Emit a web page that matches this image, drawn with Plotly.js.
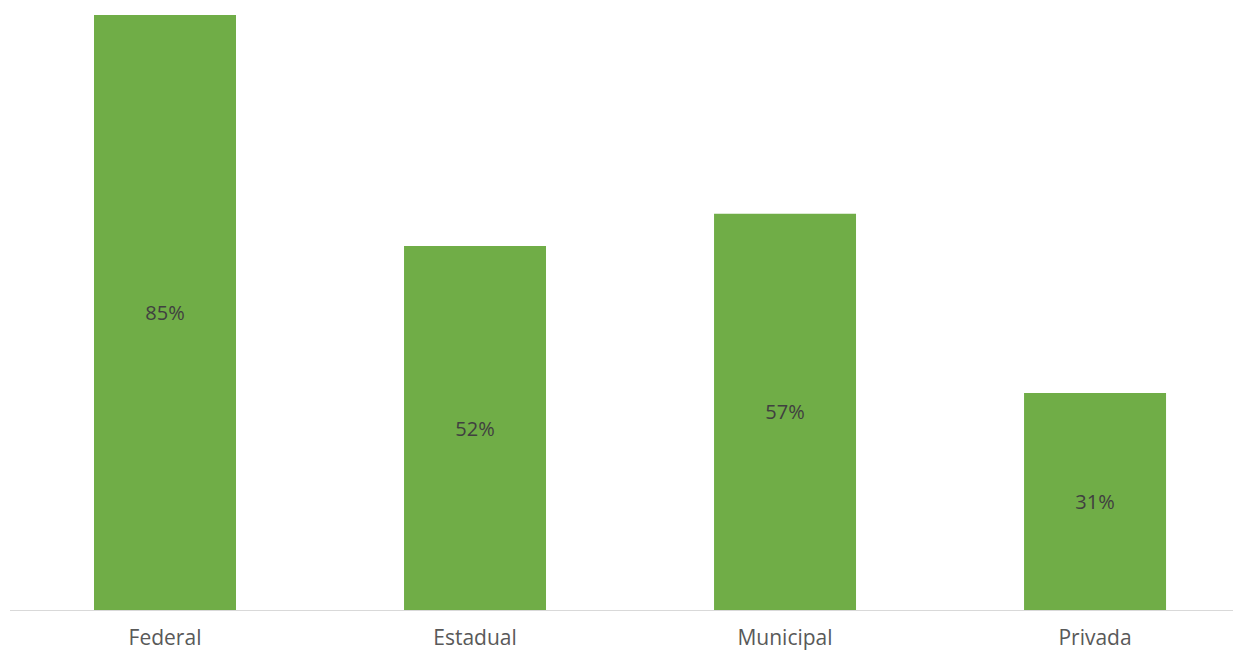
<!DOCTYPE html>
<html>
<head>
<meta charset="utf-8">
<script src="https://cdn.plot.ly/plotly-3.0.1.min.js"></script>
<style>html,body{margin:0;padding:0;background:#fff;}#chart{width:1235px;height:652px;}</style>
</head>
<body>
<div id="chart"></div>
<script>
var categories = ["Federal", "Estadual", "Municipal", "Privada"];
var values = [0.85, 0.52, 0.566, 0.31];
var labels = values.map(function(v){ return Math.round(v * 100) + "%"; });

var trace = {
  type: "bar",
  x: categories,
  y: values,
  text: labels,
  textposition: "inside",
  insidetextanchor: "middle",
  textfont: {family: "Open Sans, sans-serif", size: 20, color: "#404040"},
  marker: {color: "#70AD47"},
  width: 0.458,
  hoverinfo: "none"
};

var layout = {
  width: 1235,
  height: 652,
  margin: {l: 10, r: 2, t: 5, b: 42},
  paper_bgcolor: "#ffffff",
  plot_bgcolor: "#ffffff",
  showlegend: false,
  xaxis: {
    range: [-0.5, 3.445],
    showline: true,
    linecolor: "#d9d9d9",
    linewidth: 1,
    ticks: "",
    ticklabelstandoff: 9,
    showgrid: false,
    zeroline: false,
    tickfont: {family: "Open Sans, sans-serif", size: 21, color: "#595959"}
  },
  yaxis: {
    range: [0, 0.8643],
    visible: false,
    showgrid: false,
    zeroline: false
  }
};

Plotly.newPlot("chart", [trace], layout, {displayModeBar: false, staticPlot: true});
</script>
</body>
</html>
